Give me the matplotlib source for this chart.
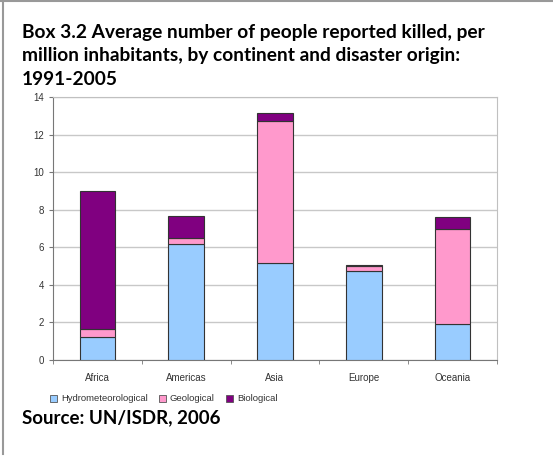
import matplotlib.pyplot as plt
import numpy as np
from matplotlib.lines import Line2D
from matplotlib.patches import Patch

continents = ['Africa', 'Americas', 'Asia', 'Europe', 'Oceania']
hydro = [1.25, 6.2, 5.18, 4.75, 1.91]
geo = [0.39, 0.3, 7.55, 0.23, 5.04]
bio = [7.36, 1.16, 0.41, 0.07, 0.66]
series = ['Hydrometeorological', 'Geological', 'Biological']
colors = ['#99ccff', '#ff99cc', '#800080']

plt.rcParams['font.family'] = ['Liberation Sans', 'DejaVu Sans']

fig = plt.figure(figsize=(5.53, 4.57), dpi=100)
ax = fig.add_axes([0.0958, 0.2122, 0.8029, 0.5755])

x = np.arange(len(continents))
bottom = np.zeros(len(continents))
for vals, c in zip([hydro, geo, bio], colors):
    ax.bar(x, vals, 0.4, bottom=bottom, color=c, edgecolor='#333333',
           linewidth=0.8, zorder=3)
    bottom += np.array(vals)

ax.set_xlim(-0.5, len(continents) - 0.5)
ax.set_ylim(0, 14)
ax.set_yticks(np.arange(0, 15, 2))
ax.grid(axis='y', color='#c8c8c8', linewidth=1, zorder=0)

# category ticks sit between the bars
ax.set_xticks(x)
ax.set_xticklabels(continents)
ax.set_xticks(np.arange(-0.5, len(continents)), minor=True)
ax.tick_params(axis='x', which='major', length=0, pad=9, labelsize=7,
               labelcolor='#333333')
ax.tick_params(axis='x', which='minor', length=3, direction='out',
               color='#777777')
ax.tick_params(axis='y', length=3, direction='out', color='#777777',
               labelsize=7, labelcolor='#333333')
for side in ['top', 'right']:
    ax.spines[side].set_color('#c0c0c0')
for side in ['left', 'bottom']:
    ax.spines[side].set_color('#777777')

handles = [Patch(facecolor=c, edgecolor='#555555', linewidth=0.6)
           for c in colors]
fig.legend(handles, series, loc='center left', bbox_to_anchor=(0.075, 0.127),
           ncol=3, frameon=False, fontsize=6.8, handlelength=0.75,
           handleheight=0.75, handletextpad=0.4, columnspacing=1.2,
           labelcolor='#333333')

fig.text(0.04, 0.948, 'Box 3.2 Average number of people reported killed, per\n'
         'million inhabitants, by continent and disaster origin:\n1991-2005',
         fontsize=13.8, fontweight='bold', family='Lato', va='top',
         linespacing=1.48)
fig.text(0.04, 0.068, 'Source: UN/ISDR, 2006', fontsize=13.5,
         fontweight='bold', family='Lato', va='bottom')

# frame lines along the top and left edges
fig.add_artist(Line2D([0.0055, 0.0055], [0.007, 1], color='#999999', lw=1.5))
fig.add_artist(Line2D([0, 1], [0.997, 0.997], color='#999999', lw=1.5))

fig.savefig('out.png', dpi=100)
